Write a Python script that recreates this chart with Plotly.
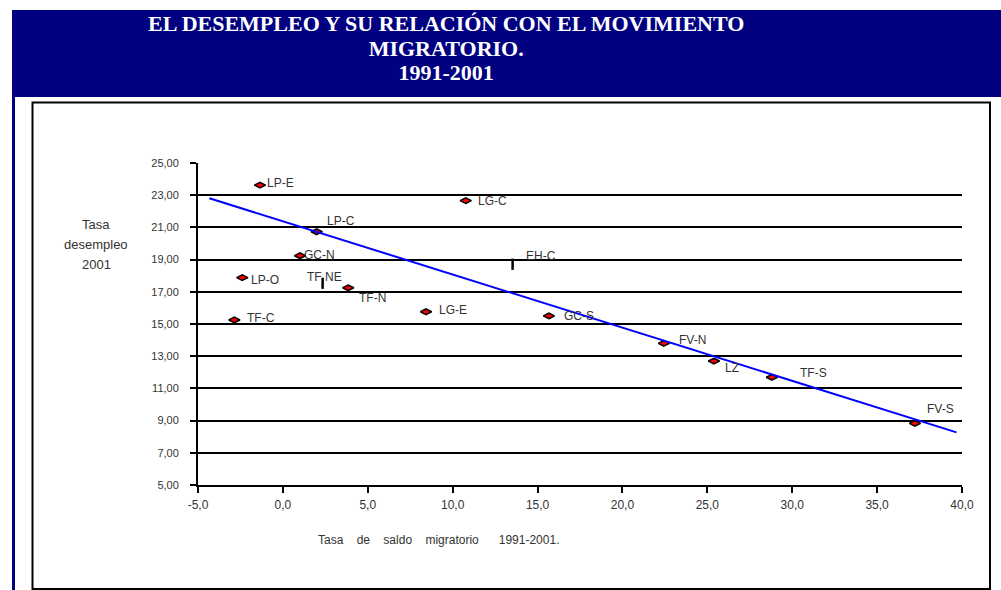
import plotly.graph_objects as go

# ---------------- data ----------------
regions = ["LP-E", "LP-C", "GC-N", "LP-O", "TF-N", "TF-C", "LG-C", "LG-E",
           "GC-S", "FV-N", "LZ", "TF-S", "FV-S"]
saldo_migratorio = [-1.35, 1.99, 1.01, -2.39, 3.85, -2.86, 10.77, 8.43,
                    15.67, 22.44, 25.39, 28.80, 37.23]
tasa_desempleo = [23.63, 20.73, 19.24, 17.88, 17.25, 15.25, 22.66, 15.76,
                  15.50, 13.80, 12.70, 11.69, 8.83]

# points drawn as a short black dash in the original
dash_regions = ["TF NE", "EH-C"]
dash_saldo = [2.34, 13.53]
dash_desempleo = [17.53, 18.71]

# trend line end points
trend_x = [-4.33, 39.68]
trend_y = [22.81, 8.27]

x_tick_vals = [-5, 0, 5, 10, 15, 20, 25, 30, 35, 40]
x_tick_text = ["-5,0", "0,0", "5,0", "10,0", "15,0", "20,0", "25,0", "30,0", "35,0", "40,0"]
y_tick_vals = [5, 7, 9, 11, 13, 15, 17, 19, 21, 23, 25]
y_tick_text = ["5,00", "7,00", "9,00", "11,00", "13,00", "15,00", "17,00",
               "19,00", "21,00", "23,00", "25,00"]

title_lines = ["EL DESEMPLEO Y SU RELACIÓN CON EL MOVIMIENTO", "MIGRATORIO.", "1991-2001"]
y_title_lines = ["Tasa", "desempleo", "2001"]
x_title = "Tasa\u00a0\u00a0\u00a0\u00a0de\u00a0\u00a0\u00a0\u00a0saldo\u00a0\u00a0\u00a0\u00a0migratorio\u00a0\u00a0\u00a0\u00a0\u00a0\u00a01991-2001."

# ---------------- layout helpers (pixel -> paper) ----------------
W, H = 1001, 590
L, R, T, B = 198, 39, 163, 105
PW, PH = W - L - R, H - T - B


def fx(p):
    return (p - L) / PW


def fy(p):
    return (H - B - p) / PH


# label offsets in pixels (xshift, yshift)
label_shift = {
    "LP-E": (5, 2), "LP-C": (8, 11), "GC-N": (2, 1), "LP-O": (7, -2),
    "TF-N": (9, -10), "TF-C": (11, 2), "LG-C": (10, 0), "LG-E": (11, 2),
    "GC-S": (13, 0), "FV-N": (13, 3), "LZ": (9, -7), "TF-S": (26, 4),
    "FV-S": (10, 14), "TF NE": (-18, 6), "EH-C": (11, 8),
}

TXT = "#333333"
SANS = "Liberation Sans, Arial, sans-serif"

fig = go.Figure()

fig.add_trace(go.Scatter(
    x=saldo_migratorio, y=tasa_desempleo, mode="markers",
    marker=dict(symbol="diamond-wide", size=8, color="#FF0000",
                line=dict(color="black", width=1.5)),
    hoverinfo="text", text=regions, showlegend=False,
))
fig.add_trace(go.Scatter(
    x=dash_saldo, y=dash_desempleo, mode="markers",
    marker=dict(symbol="line-ns", size=8, color="black",
                line=dict(color="black", width=2.5)),
    hoverinfo="text", text=dash_regions, showlegend=False,
))
fig.add_trace(go.Scatter(
    x=trend_x, y=trend_y, mode="lines",
    line=dict(color="#0000FF", width=2), hoverinfo="skip", showlegend=False,
))

annotations = []
for name, xv, yv in list(zip(regions, saldo_migratorio, tasa_desempleo)) + \
        list(zip(dash_regions, dash_saldo, dash_desempleo)):
    dx, dy = label_shift[name]
    annotations.append(dict(
        x=xv, y=yv, xref="x", yref="y", text=name, showarrow=False,
        xanchor="left", yanchor="middle", xshift=dx, yshift=dy,
        font=dict(family=SANS, size=12, color=TXT),
    ))

# title (navy header): base font sets line spacing, spans set glyph size
title_text = "<br>".join(
    "<span style='font-size:22px'>" + line + "</span>" for line in title_lines)
annotations.append(dict(
    x=fx(446), y=fy(48.5), xref="paper", yref="paper", text="<b>" + title_text + "</b>",
    showarrow=False, xanchor="center", yanchor="middle", align="center",
    font=dict(family="Liberation Serif, Times New Roman, serif", size=19, color="white"),
))

for line, ypx in zip(y_title_lines, [224, 244, 264]):
    annotations.append(dict(
        x=fx(96), y=fy(ypx), xref="paper", yref="paper", text=line, showarrow=False,
        xanchor="center", yanchor="middle", align="center",
        font=dict(family=SANS, size=13, color=TXT),
    ))
annotations.append(dict(
    x=fx(438), y=fy(540), xref="paper", yref="paper", text=x_title, showarrow=False,
    xanchor="center", yanchor="middle",
    font=dict(family=SANS, size=12, color=TXT),
))

shapes = [
    # navy header
    dict(type="rect", xref="paper", yref="paper", x0=fx(12), x1=fx(1005),
         y0=fy(97), y1=fy(10), fillcolor="#000080", line=dict(width=0), layer="below"),
    # navy left strip
    dict(type="rect", xref="paper", yref="paper", x0=fx(12), x1=fx(15),
         y0=fy(595), y1=fy(97), fillcolor="#000080", line=dict(width=0), layer="below"),
    # inner chart box
    dict(type="rect", xref="paper", yref="paper", x0=fx(32.5), x1=fx(990),
         y0=fy(589), y1=fy(102.5), fillcolor="white",
         line=dict(color="black", width=2), layer="below"),
]

fig.update_layout(
    width=W, height=H, autosize=False,
    margin=dict(l=L, r=R, t=T, b=B, pad=0),
    paper_bgcolor="white", plot_bgcolor="white",
    showlegend=False,
    annotations=annotations, shapes=shapes,
    xaxis=dict(
        range=[-5, 40], tickmode="array", tickvals=x_tick_vals, ticktext=x_tick_text,
        showgrid=False, zeroline=False, showline=True, linecolor="black", linewidth=2,
        ticks="outside", ticklen=6, tickwidth=2, tickcolor="black",
        ticklabelstandoff=2,
        tickfont=dict(family=SANS, size=12, color=TXT),
    ),
    yaxis=dict(
        range=[5, 25], tickmode="array", tickvals=y_tick_vals, ticktext=y_tick_text,
        showgrid=True, gridcolor="black", gridwidth=2, zeroline=False,
        showline=True, linecolor="black", linewidth=2,
        ticks="outside", ticklen=6, tickwidth=2, tickcolor="black",
        ticklabelstandoff=9,
        tickfont=dict(family=SANS, size=11, color=TXT),
    ),
)

fig.write_html("out.html", config={"displayModeBar": False},
               post_script="document.body.style.margin='0';")
